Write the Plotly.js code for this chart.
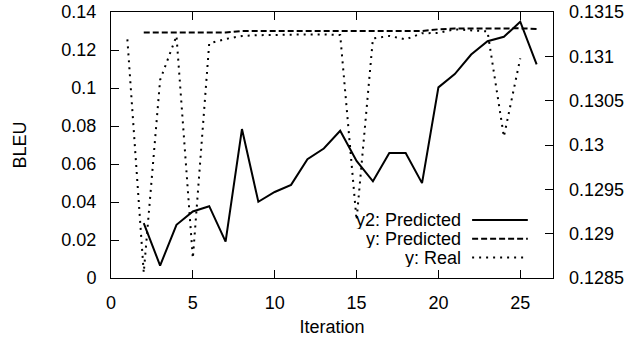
<!DOCTYPE html>
<html>
<head>
<meta charset="utf-8">
<script src="https://cdn.plot.ly/plotly-3.0.1.min.js"></script>
<style>html,body{margin:0;padding:0;background:#fff;}#chart{width:631px;height:338px;}</style>
</head>
<body>
<div id="chart"></div>
<script>
// ---- data ----
var iterReal = [1,2,3,4,5,6,7,8,9,10,11,12,13,14,15,16,17,18,19,20,21,22,23,24,25];
var realBleu = [0.1256,0.0028,0.1042,0.1274,0.0104,0.1235,0.1258,0.1274,0.1278,0.1280,0.1280,0.1282,0.1282,0.1279,0.0305,0.1261,0.1274,0.1256,0.1288,0.1290,0.1309,0.1302,0.1298,0.0744,0.1156];

var iterPred = [2,3,4,5,6,7,8,9,10,11,12,13,14,15,16,17,18,19,20,21,22,23,24,25,26];
var predBleu = [0.1292,0.1291,0.1292,0.1292,0.1292,0.1292,0.1300,0.1300,0.1300,0.1301,0.1301,0.1301,0.1301,0.1300,0.1300,0.1300,0.1300,0.1300,0.1309,0.1313,0.1313,0.1314,0.1314,0.1314,0.1311];

var predBleuY2 = [0.12912,0.12864,0.12910,0.12925,0.12931,0.12891,0.13018,0.12936,0.12947,0.12955,0.12984,0.12996,0.13016,0.12982,0.12959,0.12991,0.12991,0.12957,0.13065,0.13080,0.13102,0.13117,0.13122,0.13139,0.13091];

var xTicks = [0,5,10,15,20,25];
var yTicks = [0,0.02,0.04,0.06,0.08,0.1,0.12,0.14];
var yTickText = ["0","0.02","0.04","0.06","0.08","0.1","0.12","0.14"];
var y2Ticks = [0.1285,0.129,0.1295,0.13,0.1305,0.131,0.1315];
var y2TickText = ["0.1285","0.129","0.1295","0.13","0.1305","0.131","0.1315"];
var legendNames = ["y2: Predicted","y: Predicted","y: Real"];

// ---- styles ----
var FONT = "Liberation Sans, Arial, sans-serif";
var FS = 18;
var dashes = ["solid","6px,3px","2px,5px"];

var traces = [
  {x: iterPred, y: predBleuY2, yaxis: "y2", name: legendNames[0], mode: "lines",
   line: {color: "#000", width: 2, dash: dashes[0]}},
  {x: iterPred, y: predBleu, name: legendNames[1], mode: "lines",
   line: {color: "#000", width: 2, dash: dashes[1]}},
  {x: iterReal, y: realBleu, name: legendNames[2], mode: "lines",
   line: {color: "#000", width: 2, dash: dashes[2]}}
];

// manual gnuplot-like legend (text right aligned, sample on right)
var legRowY = [0.218, 0.148, 0.077];
var annotations = [];
var shapes = [];
for (var i = 0; i < legendNames.length; i++) {
  annotations.push({xref: "paper", yref: "paper", x: 0.794, y: legRowY[i],
    xanchor: "right", yanchor: "middle", showarrow: false, text: legendNames[i],
    height: 18, valign: "middle", borderpad: 0,
    font: {family: FONT, size: FS, color: "#000"}});
  shapes.push({type: "line", xref: "paper", yref: "paper", x0: 0.817, x1: 0.943,
    y0: legRowY[i], y1: legRowY[i], line: {color: "#000", width: 2, dash: dashes[i]}});
}

var layout = {
  width: 631, height: 338,
  margin: {l: 111, r: 78, t: 12, b: 60, pad: 0},
  paper_bgcolor: "#fff", plot_bgcolor: "#fff",
  showlegend: false,
  font: {family: FONT, size: FS, color: "#000"},
  xaxis: {range: [0, 27], tickvals: xTicks, ticks: "inside", ticklen: 8, tickcolor: "#000",
    showline: true, linecolor: "#000", linewidth: 1, mirror: "ticks", showgrid: false,
    zeroline: false, ticklabelstandoff: 8,
    title: {text: "Iteration", font: {family: FONT, size: FS}, standoff: 8}},
  yaxis: {range: [0, 0.14], tickvals: yTicks, ticktext: yTickText, ticks: "inside", ticklen: 8,
    tickcolor: "#000", showline: true, linecolor: "#000", linewidth: 1, mirror: true,
    showgrid: false, zeroline: false, ticklabelstandoff: 10,
    title: {text: "BLEU", font: {family: FONT, size: FS}, standoff: 30}},
  yaxis2: {range: [0.1285, 0.1315], overlaying: "y", side: "right", tickvals: y2Ticks,
    ticktext: y2TickText, ticks: "inside", ticklen: 8, tickcolor: "#000", showline: false,
    showgrid: false, zeroline: false, ticklabelstandoff: 15},
  annotations: annotations,
  shapes: shapes
};

Plotly.newPlot("chart", traces, layout, {staticPlot: true, displayModeBar: false});
</script>
</body>
</html>
